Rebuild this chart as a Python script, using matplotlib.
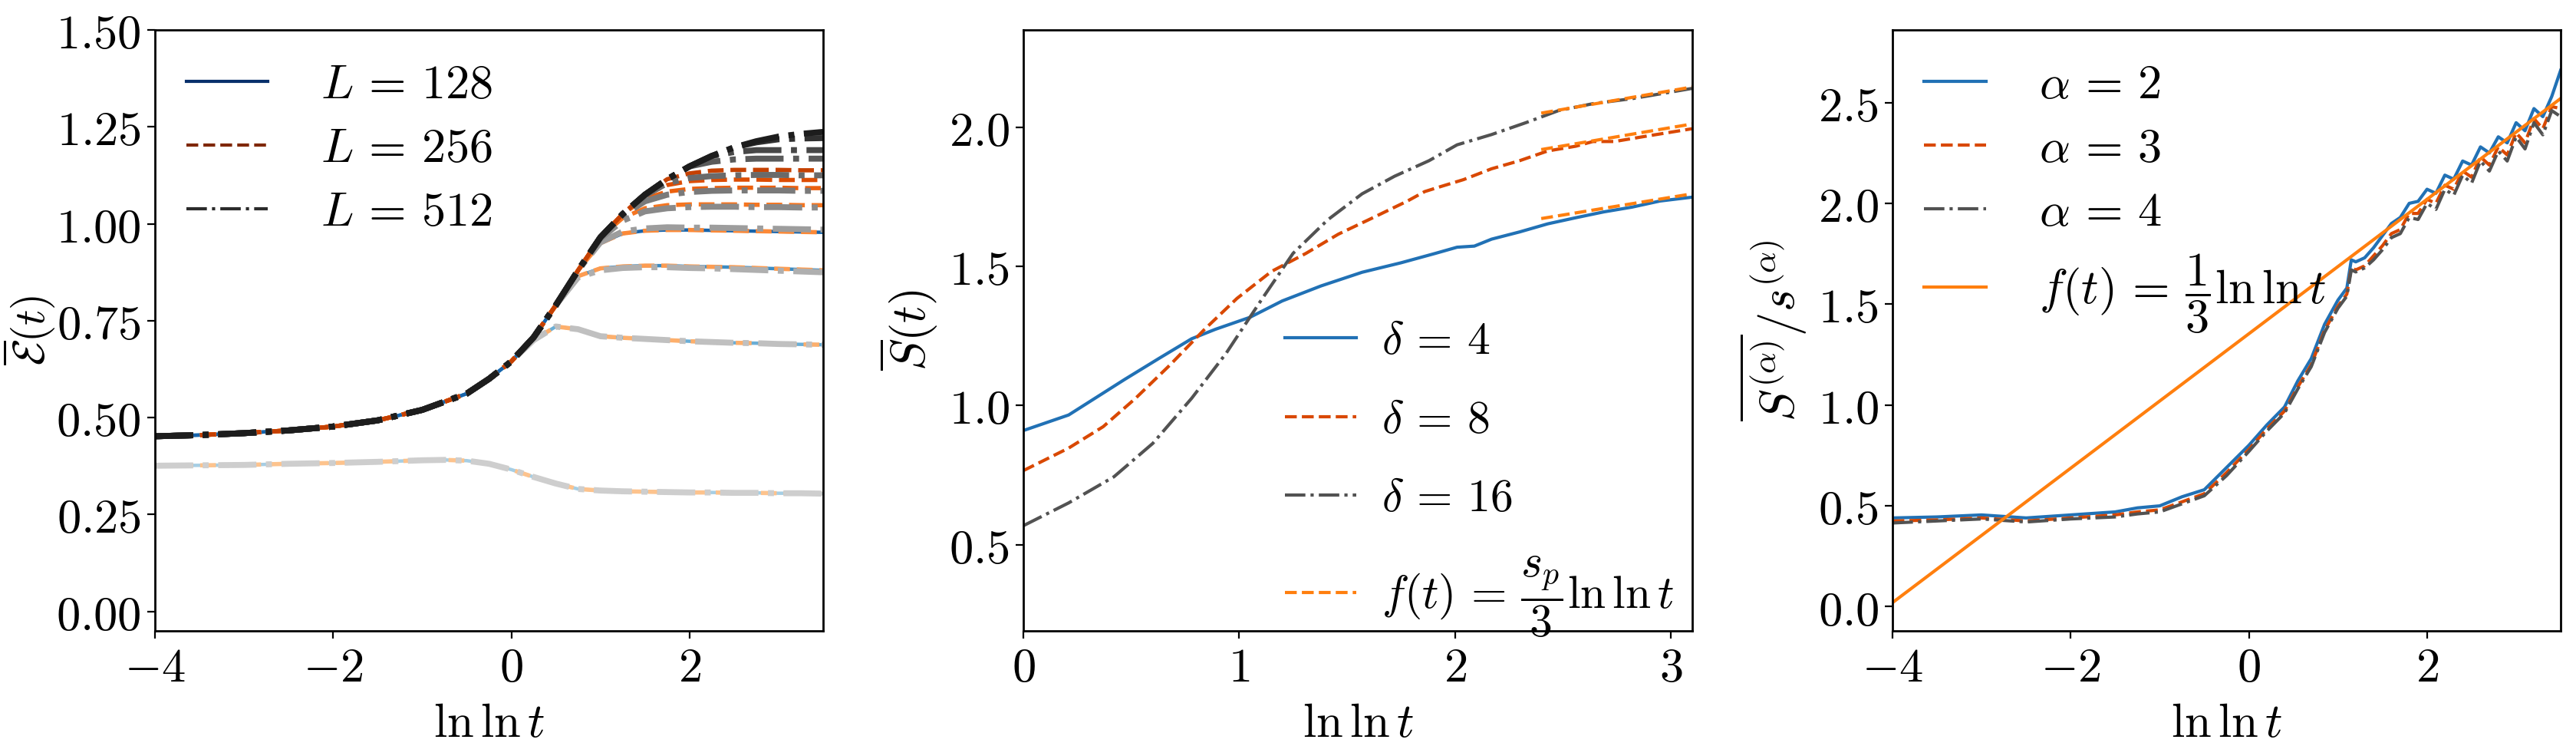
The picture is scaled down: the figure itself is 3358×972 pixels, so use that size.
import matplotlib
matplotlib.use("Agg")
import matplotlib.pyplot as plt
from matplotlib.ticker import FuncFormatter
from matplotlib.lines import Line2D
import numpy as np

plt.rcParams['mathtext.fontset'] = 'cm'
plt.rcParams['font.family'] = ['DejaVu Serif']
plt.rcParams['axes.linewidth'] = 1.0
FS = 22.5

# ---------------- Panel 1 data ----------------
x1 = [-4.0, -3.5, -3.0, -2.5, -2.0, -1.5, -1.0, -0.75, -0.5, -0.25, 0.0, 0.25,
      0.5, 0.75, 1.0, 1.25, 1.5, 1.75, 2.0, 2.25, 2.5, 2.75, 3.0, 3.25, 3.5]
e_low = [0.376, 0.377, 0.378, 0.381, 0.383, 0.386, 0.390, 0.391, 0.389, 0.381, 0.366, 0.347,
         0.330, 0.316, 0.312, 0.310, 0.309, 0.308, 0.307, 0.307, 0.306, 0.306, 0.305, 0.305, 0.304]
e_069 = [0.452, 0.455, 0.460, 0.467, 0.477, 0.493, 0.520, 0.541, 0.562, 0.600, 0.645, 0.700,
         0.735, 0.728, 0.710, 0.706, 0.703, 0.700, 0.697, 0.695, 0.693, 0.692, 0.690, 0.689, 0.688]
e_088 = [0.452, 0.455, 0.460, 0.467, 0.477, 0.493, 0.520, 0.541, 0.562, 0.600, 0.645, 0.707,
         0.790, 0.865, 0.885, 0.890, 0.892, 0.892, 0.890, 0.889, 0.888, 0.886, 0.884, 0.882, 0.880]
e_098 = [0.452, 0.455, 0.460, 0.467, 0.477, 0.493, 0.520, 0.541, 0.562, 0.600, 0.645, 0.707,
         0.790, 0.880, 0.950, 0.975, 0.982, 0.984, 0.984, 0.983, 0.982, 0.981, 0.980, 0.979, 0.978]
e_105 = [0.452, 0.455, 0.460, 0.467, 0.477, 0.493, 0.520, 0.541, 0.562, 0.600, 0.645, 0.707,
         0.790, 0.880, 0.965, 1.015, 1.040, 1.048, 1.050, 1.050, 1.050, 1.049, 1.049, 1.048, 1.048]
e_109 = [0.452, 0.455, 0.460, 0.467, 0.477, 0.493, 0.520, 0.541, 0.562, 0.600, 0.645, 0.707,
         0.790, 0.880, 0.965, 1.025, 1.065, 1.083, 1.090, 1.092, 1.093, 1.093, 1.093, 1.092, 1.092]
e_111 = [0.452, 0.455, 0.460, 0.467, 0.477, 0.493, 0.520, 0.541, 0.562, 0.600, 0.645, 0.707,
         0.790, 0.880, 0.965, 1.025, 1.075, 1.100, 1.110, 1.113, 1.114, 1.114, 1.113, 1.113, 1.113]
e_114 = [0.452, 0.455, 0.460, 0.467, 0.477, 0.493, 0.520, 0.541, 0.562, 0.600, 0.645, 0.707,
         0.790, 0.880, 0.965, 1.025, 1.075, 1.115, 1.130, 1.137, 1.139, 1.139, 1.139, 1.138, 1.138]
# L = 512 plateaus that sit next to the L = 256 ones
g_099 = [0.452, 0.455, 0.460, 0.467, 0.477, 0.493, 0.520, 0.541, 0.562, 0.600, 0.645, 0.707,
         0.790, 0.880, 0.952, 0.980, 0.988, 0.991, 0.990, 0.990, 0.989, 0.988, 0.987, 0.986, 0.985]
g_087 = [0.452, 0.455, 0.460, 0.467, 0.477, 0.493, 0.520, 0.541, 0.562, 0.600, 0.645, 0.707,
         0.790, 0.862, 0.880, 0.886, 0.888, 0.888, 0.886, 0.885, 0.883, 0.881, 0.879, 0.877, 0.875]
g_104 = [0.452, 0.455, 0.460, 0.467, 0.477, 0.493, 0.520, 0.541, 0.562, 0.600, 0.645, 0.707,
         0.790, 0.880, 0.962, 1.008, 1.032, 1.040, 1.043, 1.044, 1.044, 1.043, 1.043, 1.042, 1.042]
g_108 = [0.452, 0.455, 0.460, 0.467, 0.477, 0.493, 0.520, 0.541, 0.562, 0.600, 0.645, 0.707,
         0.790, 0.880, 0.965, 1.022, 1.058, 1.075, 1.082, 1.085, 1.086, 1.086, 1.086, 1.085, 1.085]
g_112 = [0.452, 0.455, 0.460, 0.467, 0.477, 0.493, 0.520, 0.541, 0.562, 0.600, 0.645, 0.707,
         0.790, 0.880, 0.965, 1.025, 1.073, 1.105, 1.118, 1.123, 1.125, 1.126, 1.126, 1.125, 1.125]
g_117 = [0.452, 0.455, 0.460, 0.467, 0.477, 0.493, 0.520, 0.541, 0.562, 0.600, 0.645, 0.707,
         0.790, 0.880, 0.965, 1.025, 1.075, 1.115, 1.148, 1.160, 1.166, 1.168, 1.168, 1.168, 1.168]
g_119 = [0.452, 0.455, 0.460, 0.467, 0.477, 0.493, 0.520, 0.541, 0.562, 0.600, 0.645, 0.707,
         0.790, 0.880, 0.965, 1.025, 1.075, 1.115, 1.148, 1.175, 1.185, 1.190, 1.190, 1.190, 1.190]
g_122 = [0.452, 0.455, 0.460, 0.467, 0.477, 0.493, 0.520, 0.541, 0.562, 0.600, 0.645, 0.707,
         0.790, 0.880, 0.965, 1.025, 1.075, 1.115, 1.148, 1.175, 1.197, 1.210, 1.218, 1.220, 1.221]
g_124 = [0.452, 0.455, 0.460, 0.467, 0.477, 0.493, 0.520, 0.541, 0.562, 0.600, 0.645, 0.707,
         0.790, 0.880, 0.965, 1.025, 1.075, 1.115, 1.148, 1.175, 1.197, 1.213, 1.225, 1.232, 1.237]

curves_L128 = [e_low, e_069, e_088, e_098]
curves_L256 = [e_low, e_069, e_088, e_098, e_105, e_109, e_111, e_114]
curves_L512 = [e_low, e_069, g_087, g_099, g_104, g_108, g_112, g_117, g_119, g_122, g_124]
L_labels = [r'$L\,=\,128$', r'$L\,=\,256$', r'$L\,=\,512$']

# ---------------- Panel 2 data ----------------
x2_d4 = [0.0, 0.21, 0.34, 0.47, 0.63, 0.78, 0.89, 1.05, 1.20, 1.38, 1.57, 1.75, 1.91, 2.01,
         2.09, 2.17, 2.30, 2.43, 2.56, 2.69, 2.82, 2.95, 3.10]
s_d4 = [0.910, 0.966, 1.030, 1.094, 1.170, 1.240, 1.274, 1.317, 1.376, 1.430, 1.479, 1.513,
        1.547, 1.569, 1.573, 1.598, 1.624, 1.653, 1.675, 1.696, 1.713, 1.735, 1.749]
x2_d8 = [0.0, 0.21, 0.37, 0.52, 0.68, 0.84, 0.99, 1.15, 1.31, 1.46, 1.62, 1.78, 1.86, 1.93,
         2.04, 2.17, 2.30, 2.43, 2.56, 2.64, 2.74, 2.87, 3.10]
s_d8 = [0.766, 0.847, 0.924, 1.026, 1.146, 1.274, 1.385, 1.482, 1.547, 1.616, 1.675, 1.735,
        1.769, 1.786, 1.812, 1.851, 1.880, 1.915, 1.932, 1.949, 1.949, 1.966, 1.995]
x2_d16 = [0.0, 0.21, 0.42, 0.60, 0.78, 0.94, 1.10, 1.25, 1.41, 1.57, 1.72, 1.88, 2.01, 2.17,
          2.33, 2.48, 2.64, 2.82, 2.95, 3.10]
s_d16 = [0.568, 0.650, 0.744, 0.864, 1.026, 1.188, 1.376, 1.547, 1.667, 1.761, 1.824, 1.880,
         1.937, 1.974, 2.017, 2.060, 2.085, 2.103, 2.120, 2.140]
fit_x = [2.40, 3.10]
fit_d4 = [1.672, 1.761]
fit_d8 = [1.920, 2.012]
fit_d16 = [2.051, 2.145]

# ---------------- Panel 3 data ----------------
x3 = [-4.0, -3.5, -3.0, -2.5, -2.0, -1.5, -1.25, -1.0, -0.75, -0.5, -0.25, 0.0, 0.2, 0.4,
      0.55, 0.7, 0.85, 1.0, 1.1, 1.15, 1.2, 1.3, 1.4, 1.5, 1.6, 1.7, 1.8, 1.9, 2.0, 2.1,
      2.2, 2.3, 2.4, 2.5, 2.6, 2.7, 2.8, 2.9, 3.0, 3.1, 3.2, 3.3, 3.4, 3.5]
s_a2 = [0.440, 0.445, 0.455, 0.440, 0.455, 0.470, 0.490, 0.500, 0.545, 0.580, 0.690, 0.800,
        0.900, 0.990, 1.120, 1.230, 1.400, 1.520, 1.580, 1.720, 1.710, 1.730, 1.780, 1.840,
        1.900, 1.930, 2.000, 2.010, 2.070, 2.050, 2.140, 2.120, 2.210, 2.190, 2.280, 2.250,
        2.330, 2.300, 2.400, 2.360, 2.470, 2.430, 2.530, 2.660]
s_a3 = [0.425, 0.430, 0.440, 0.425, 0.440, 0.455, 0.470, 0.480, 0.520, 0.560, 0.665, 0.780,
        0.880, 0.970, 1.090, 1.200, 1.370, 1.490, 1.550, 1.680, 1.670, 1.690, 1.740, 1.790,
        1.850, 1.870, 1.950, 1.950, 2.020, 2.000, 2.090, 2.070, 2.160, 2.130, 2.230, 2.190,
        2.280, 2.240, 2.350, 2.300, 2.420, 2.370, 2.480, 2.470]
s_a4 = [0.415, 0.425, 0.435, 0.420, 0.435, 0.445, 0.460, 0.470, 0.510, 0.550, 0.650, 0.770,
        0.870, 0.960, 1.080, 1.190, 1.360, 1.480, 1.540, 1.670, 1.660, 1.680, 1.720, 1.770,
        1.830, 1.850, 1.930, 1.920, 2.000, 1.970, 2.070, 2.040, 2.140, 2.100, 2.210, 2.160,
        2.260, 2.210, 2.330, 2.270, 2.400, 2.340, 2.460, 2.430]
f3_x = [-4.0, 3.5]
f3_y = [0.020, 2.520]

LNLN = r'\mathrm{ln}\,\mathrm{ln}\,t'

# ---------------- Figure ----------------
W, H = 3358, 972
fig = plt.figure(figsize=(W / 200, H / 200), dpi=200)
bottom = 1 - 822 / H
height = (822 - 39) / H
ax1 = fig.add_axes([202 / W, bottom, 871 / W, height])
ax2 = fig.add_axes([1334 / W, bottom, 872 / W, height])
ax3 = fig.add_axes([2467 / W, bottom, 871 / W, height])

int_fmt = FuncFormatter(lambda v, p: r'$%d$' % int(round(v)))
f2_fmt = FuncFormatter(lambda v, p: r'$%.2f$' % v)
f1_fmt = FuncFormatter(lambda v, p: r'$%.1f$' % v)

# Panel 1
fam = [(curves_L128, plt.cm.Blues, '-', 1.6, 0.35, 0.8),
       (curves_L256, plt.cm.Oranges, '--', 2.0, 0.3, 0.8),
       (curves_L512, plt.cm.Greys, '-.', 2.8, 0.3, 0.9)]
for curves, cmap, ls, lw, c0, c1 in fam:
    n = len(curves)
    for i, c in enumerate(curves):
        col = cmap(c0 + (c1 - c0) * i / max(n - 1, 1))
        ax1.plot(x1, c, ls=ls, lw=lw, color=col)
handles = [Line2D([], [], color='#08306b', ls='-', lw=1.5),
           Line2D([], [], color='#7f2704', ls='--', lw=1.5),
           Line2D([], [], color='#2b2b2b', ls='-.', lw=1.5)]
ax1.legend(handles, L_labels, loc='upper left', frameon=False, fontsize=FS,
           handlelength=1.7, handletextpad=1.1, borderaxespad=0.25, labelspacing=0.35)
ax1.set_xlim(-4, 3.5)
ax1.set_ylim(-0.05, 1.5)
ax1.set_xticks([-4, -2, 0, 2])
ax1.set_yticks([0, 0.25, 0.5, 0.75, 1.0, 1.25, 1.5])
ax1.xaxis.set_major_formatter(int_fmt)
ax1.yaxis.set_major_formatter(f2_fmt)
ax1.set_xlabel(r'$\ln\ln t$', fontsize=FS)
ax1.set_ylabel(r'$\overline{\mathcal{E}}(t)$', fontsize=20.5)
ax1.yaxis.set_label_coords(-0.147, 0.5)

# Panel 2
c_blue, c_red, c_gray, c_or = '#2171b5', '#d94801', '#525252', '#ff7f0e'
ax2.plot(x2_d4, s_d4, '-', color=c_blue, lw=1.5, label=r'$\delta\,=\,4$')
ax2.plot(x2_d8, s_d8, '--', color=c_red, lw=1.5, label=r'$\delta\,=\,8$')
ax2.plot(x2_d16, s_d16, '-.', color=c_gray, lw=1.5, label=r'$\delta\,=\,16$')
ax2.plot(fit_x, fit_d4, '--', color=c_or, lw=1.5,
         label=r'$f(t)\,=\,\dfrac{s_p}{3}' + LNLN + '$')
ax2.plot(fit_x, fit_d8, '--', color=c_or, lw=1.5)
ax2.plot(fit_x, fit_d16, '--', color=c_or, lw=1.5)
ax2.legend(loc='lower left', bbox_to_anchor=(0.364, -0.045), frameon=False, fontsize=21.5,
           handlelength=1.55, handletextpad=0.55, borderaxespad=0.0, labelspacing=0.75)
ax2.set_xlim(0, 3.1)
ax2.set_ylim(0.19, 2.35)
ax2.set_xticks([0, 1, 2, 3])
ax2.set_yticks([0.5, 1.0, 1.5, 2.0])
ax2.xaxis.set_major_formatter(int_fmt)
ax2.yaxis.set_major_formatter(f1_fmt)
ax2.set_xlabel(r'$\ln\ln t$', fontsize=FS)
ax2.set_ylabel(r'$\overline{S}(t)$', fontsize=FS)

# Panel 3
ax3.plot(x3, s_a2, '-', color=c_blue, lw=1.5, label=r'$\alpha\,=\,2$')
ax3.plot(x3, s_a3, '--', color=c_red, lw=1.5, label=r'$\alpha\,=\,3$')
ax3.plot(x3, s_a4, '-.', color=c_gray, lw=1.5, label=r'$\alpha\,=\,4$')
ax3.plot(f3_x, f3_y, '-', color=c_or, lw=1.5,
         label=r'$f(t)\,=\,\dfrac{1}{3}' + LNLN + '$')
ax3.legend(loc='upper left', frameon=False, fontsize=FS, handlelength=1.3,
           handletextpad=1.1, borderaxespad=0.25, labelspacing=0.35)
ax3.set_xlim(-4, 3.5)
ax3.set_ylim(-0.12, 2.86)
ax3.set_xticks([-4, -2, 0, 2])
ax3.set_yticks([0.0, 0.5, 1.0, 1.5, 2.0, 2.5])
ax3.xaxis.set_major_formatter(int_fmt)
ax3.yaxis.set_major_formatter(f1_fmt)
ax3.set_xlabel(r'$\ln\ln t$', fontsize=FS)
ax3.set_ylabel(r'$\overline{S^{(\alpha)}}/s^{(\alpha)}$', fontsize=FS)

for ax in (ax1, ax2, ax3):
    ax.tick_params(labelsize=FS, length=3.5, width=0.8, pad=3)

fig.savefig('out.png', dpi=200)
